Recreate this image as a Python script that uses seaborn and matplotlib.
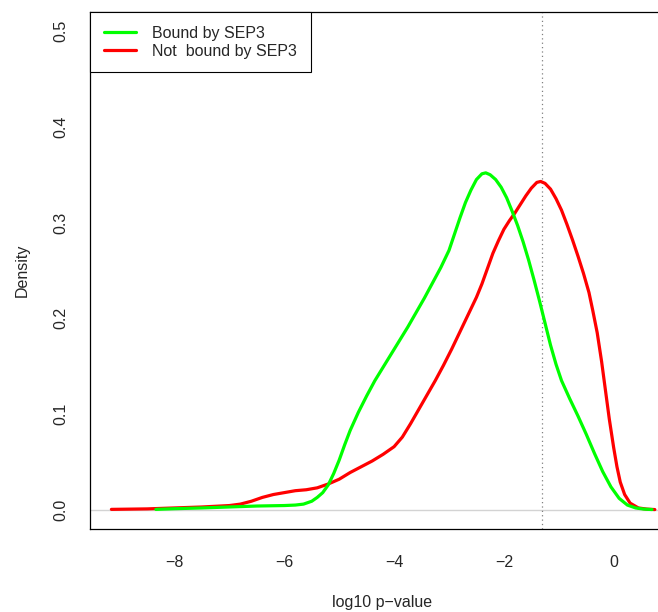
import numpy as np
import pandas as pd
import matplotlib
matplotlib.use("Agg")
import matplotlib.pyplot as plt
import seaborn as sns

# density curves (log10 p-value, density)
bound_x = [-8.34, -8.0, -7.5, -7.0, -6.5, -6.0, -5.8, -5.65, -5.5, -5.4, -5.3, -5.2,
           -5.1, -5.0, -4.9, -4.8, -4.65, -4.5, -4.35, -4.2, -4.05, -3.9, -3.75, -3.6,
           -3.45, -3.3, -3.15, -3.0, -2.9, -2.8, -2.7, -2.6, -2.5, -2.4, -2.33, -2.25,
           -2.15, -2.05, -1.95, -1.85, -1.75, -1.65, -1.55, -1.45, -1.35, -1.25, -1.15,
           -1.05, -0.95, -0.8, -0.65, -0.5, -0.35, -0.2, -0.05, 0.1, 0.25, 0.4, 0.55, 0.7]
bound_y = [0.0005, 0.0012, 0.002, 0.003, 0.004, 0.0045, 0.005, 0.006, 0.009, 0.013, 0.018, 0.026,
           0.038, 0.052, 0.068, 0.083, 0.102, 0.119, 0.135, 0.149, 0.163, 0.177, 0.191, 0.206,
           0.221, 0.237, 0.253, 0.271, 0.288, 0.305, 0.321, 0.334, 0.345, 0.351, 0.352, 0.350,
           0.345, 0.337, 0.326, 0.312, 0.297, 0.280, 0.261, 0.240, 0.218, 0.195, 0.172,
           0.152, 0.135, 0.116, 0.098, 0.079, 0.059, 0.040, 0.024, 0.012, 0.005, 0.002, 0.0008, 0.0003]

unbound_x = [-9.15, -8.5, -8.0, -7.5, -7.0, -6.8, -6.6, -6.4, -6.2, -6.0, -5.8, -5.6,
             -5.4, -5.2, -5.0, -4.8, -4.6, -4.4, -4.2, -4.0, -3.85, -3.7, -3.55, -3.4,
             -3.25, -3.1, -2.95, -2.8, -2.65, -2.5, -2.4, -2.3, -2.2, -2.1, -2.0, -1.9,
             -1.8, -1.7, -1.6, -1.5, -1.4, -1.33, -1.25, -1.15, -1.05, -0.95, -0.85, -0.75,
             -0.65, -0.55, -0.45, -0.38, -0.3, -0.22, -0.15, -0.08, 0.0, 0.06, 0.12, 0.2,
             0.3, 0.45, 0.6, 0.75]
unbound_y = [0.0005, 0.001, 0.002, 0.003, 0.0045, 0.006, 0.009, 0.013, 0.016, 0.018, 0.020, 0.021,
             0.023, 0.027, 0.032, 0.039, 0.045, 0.051, 0.058, 0.066, 0.076, 0.090, 0.105, 0.120,
             0.135, 0.151, 0.168, 0.186, 0.204, 0.222, 0.236, 0.252, 0.268, 0.281, 0.293, 0.302,
             0.310, 0.319, 0.328, 0.336, 0.342, 0.343, 0.341, 0.335, 0.325, 0.313, 0.298, 0.282,
             0.265, 0.247, 0.227, 0.208, 0.185, 0.155, 0.125, 0.095, 0.065, 0.045, 0.029, 0.016,
             0.007, 0.002, 0.0008, 0.0003]

labels = ["Bound by SEP3", "Not  bound by SEP3"]
cutoff = np.log10(0.05)

sns.set_style("white")
plt.rcParams['font.family'] = ['Liberation Sans', 'DejaVu Sans']
plt.rcParams['font.size'] = 11.5

fig = plt.figure(figsize=(6.58, 6.12), dpi=100)
# the R plot box runs past the right edge of the image
ax = fig.add_axes([90 / 658, 83 / 612, 583.5 / 658, 517 / 612])

bound = pd.DataFrame({'x': bound_x, 'density': bound_y})
unbound = pd.DataFrame({'x': unbound_x, 'density': unbound_y})

ax.axhline(0, color='#d3d3d3', lw=1, zorder=0)
ax.axvline(cutoff, color='#808080', ls=(0, (1, 2.5)), lw=0.9, zorder=0)

sns.lineplot(data=unbound, x='x', y='density', color='#ff0000', lw=2.3, sort=False,
             estimator=None, ax=ax, label=labels[1], solid_joinstyle='round')
sns.lineplot(data=bound, x='x', y='density', color='#00ff00', lw=2.3, sort=False,
             estimator=None, ax=ax, label=labels[0], solid_joinstyle='round')

ax.set_xlim(-9.54, 1.09)
ax.set_ylim(-0.02, 0.52)
ax.set_xticks([-8, -6, -4, -2, 0])
ax.set_yticks([0.0, 0.1, 0.2, 0.3, 0.4, 0.5])
ax.set_yticklabels(["0.0", "0.1", "0.2", "0.3", "0.4", "0.5"], rotation=90, va='center')
ax.tick_params(direction='out', length=7.5, width=0.8, color='#333333', pad=11)
ax.tick_params(axis='y', pad=8)
for s in ax.spines.values():
    s.set_color('black')
    s.set_linewidth(0.9)

ax.set_xlabel("log10 p\u2212value", labelpad=18)
ax.set_ylabel("Density", labelpad=17)

h, l = ax.get_legend_handles_labels()
leg = ax.legend(h[::-1], l[::-1], loc='upper left', bbox_to_anchor=(0, 1),
                borderaxespad=0, fancybox=False, framealpha=1, edgecolor='black',
                handlelength=2.0, handletextpad=1.05, labelspacing=0.2, borderpad=0.85,
                fontsize=11.5)
leg.get_frame().set_linewidth(0.8)

fig.savefig('out.png', dpi=100)
